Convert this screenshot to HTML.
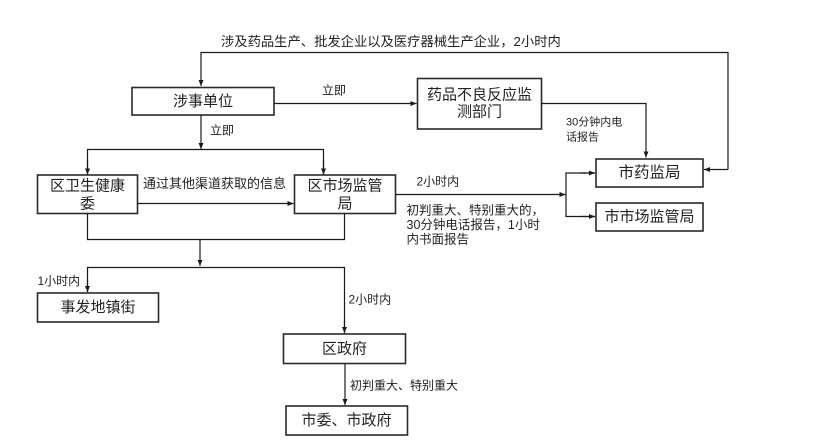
<!DOCTYPE html>
<html><head><meta charset="utf-8"><style>
html,body{margin:0;padding:0;background:#fff;}
svg{display:block;}
text{font-family:"Liberation Sans","Noto Sans CJK SC",sans-serif;fill:#222;}
.b{fill:#fff;stroke:#2a2a2a;stroke-width:1.6;}
.l{fill:none;stroke:#1a1a1a;stroke-width:1.2;}
.t15{font-size:15px;}
.s{font-size:12px;}
</style></head><body>
<svg width="815" height="447" viewBox="0 0 815 447" xmlns="http://www.w3.org/2000/svg">
<defs>
<marker id="a" markerUnits="userSpaceOnUse" markerWidth="7" markerHeight="6" refX="6" refY="3" orient="auto">
<path d="M0,0.5 L6,3 L0,5.5 z" fill="#1a1a1a"/>
</marker>
</defs>

<!-- top feedback line -->
<polyline class="l" points="728,169.5 728,52.5 201,52.5 201,86" marker-end="url(#a)"/>
<line class="l" x1="728" y1="169.5" x2="704" y2="169.5" marker-end="url(#a)"/>
<text x="221" y="46" font-size="13.3">涉及药品生产、批发企业以及医疗器械生产企业，2小时内</text>

<!-- 涉事单位 -->
<rect class="b" x="132" y="87.5" width="142" height="27.5"/>
<text class="t15" x="203" y="101.5" text-anchor="middle" dominant-baseline="central">涉事单位</text>

<!-- to 药品 -->
<line class="l" x1="274" y1="103.5" x2="416.5" y2="103.5" marker-end="url(#a)"/>
<text class="s" x="322" y="94.5">立即</text>

<!-- 药品不良反应 box -->
<rect class="b" x="417.5" y="78.5" width="124" height="50.5"/>
<text class="t15" x="479.5" y="95" text-anchor="middle" dominant-baseline="central">药品不良反应监</text>
<text class="t15" x="479.5" y="112" text-anchor="middle" dominant-baseline="central">测部门</text>

<polyline class="l" points="541.5,103.5 646,103.5 646,157.5" marker-end="url(#a)"/>
<text x="566" y="125.5" font-size="11px">30分钟内电</text>
<text x="566" y="140.5" font-size="11px">话报告</text>

<!-- 市药监局 -->
<rect class="b" x="596" y="159" width="107" height="28"/>
<text x="649.5" y="173" font-size="15.5px" text-anchor="middle" dominant-baseline="central">市药监局</text>
<!-- 市市场监管局 -->
<rect class="b" x="596" y="203" width="107" height="28"/>
<text class="t15" x="649.5" y="217" text-anchor="middle" dominant-baseline="central">市市场监管局</text>

<!-- 涉事 down -->
<line class="l" x1="201" y1="115" x2="201" y2="149" marker-end="url(#a)"/>
<text class="s" x="210" y="134.5">立即</text>
<polyline class="l" points="87.5,174.5 87.5,149.5 323.5,149.5 323.5,174.5"/>
<line class="l" x1="87.5" y1="160" x2="87.5" y2="174.5" marker-end="url(#a)"/>
<line class="l" x1="323.5" y1="160" x2="323.5" y2="174.5" marker-end="url(#a)"/>

<!-- 区卫生健康委 -->
<rect class="b" x="37.5" y="175" width="100" height="38.5"/>
<text class="t15" x="87.5" y="186" text-anchor="middle" dominant-baseline="central">区卫生健康</text>
<text class="t15" x="87.5" y="204" text-anchor="middle" dominant-baseline="central">委</text>

<!-- 区市场监管局 -->
<rect class="b" x="294.5" y="175" width="101" height="38.5"/>
<text class="t15" x="345" y="186" text-anchor="middle" dominant-baseline="central">区市场监管</text>
<text class="t15" x="345" y="204" text-anchor="middle" dominant-baseline="central">局</text>

<line class="l" x1="137.5" y1="203.5" x2="293.5" y2="203.5" marker-end="url(#a)"/>
<text x="143" y="188" font-size="13px">通过其他渠道获取的信息</text>

<!-- to city -->
<line class="l" x1="395.5" y1="194.5" x2="565.5" y2="194.5" marker-end="url(#a)"/>
<polyline class="l" points="595,173 566,173 566,216.5 595,216.5"/>
<line class="l" x1="580" y1="173" x2="595" y2="173" marker-end="url(#a)"/>
<line class="l" x1="580" y1="216.5" x2="595" y2="216.5" marker-end="url(#a)"/>
<text class="s" x="416.5" y="185.5">2小时内</text>
<text x="406.5" y="214.5" font-size="12.5px">初判重大、特别重大的，</text>
<text x="406.5" y="229" font-size="12.5px">30分钟电话报告，1小时</text>
<text x="406.5" y="243.5" font-size="12.5px">内书面报告</text>

<!-- merge -->
<polyline class="l" points="87.5,213.5 87.5,239.5 344.5,239.5 344.5,213.5"/>
<line class="l" x1="200" y1="239.5" x2="200" y2="266" marker-end="url(#a)"/>
<polyline class="l" points="87.5,292 87.5,267.5 344.5,267.5 344.5,333"/>
<line class="l" x1="87.5" y1="280" x2="87.5" y2="292" marker-end="url(#a)"/>
<line class="l" x1="344.5" y1="320" x2="344.5" y2="333" marker-end="url(#a)"/>
<text class="s" x="37.5" y="285">1小时内</text>
<text class="s" x="348.5" y="303.5">2小时内</text>

<!-- 事发地镇街 -->
<rect class="b" x="37.5" y="293" width="121" height="29"/>
<text class="t15" x="98" y="307.5" text-anchor="middle" dominant-baseline="central">事发地镇街</text>

<!-- 区政府 -->
<rect class="b" x="283.5" y="334" width="122" height="29.5"/>
<text class="t15" x="344.5" y="349" text-anchor="middle" dominant-baseline="central">区政府</text>

<line class="l" x1="345" y1="363.5" x2="345" y2="405" marker-end="url(#a)"/>
<text class="s" x="350" y="389.5">初判重大、特别重大</text>

<!-- 市委、市政府 -->
<rect class="b" x="286" y="406" width="121.5" height="29"/>
<text class="t15" x="346.5" y="420.5" text-anchor="middle" dominant-baseline="central">市委、市政府</text>
</svg>
</body></html>
